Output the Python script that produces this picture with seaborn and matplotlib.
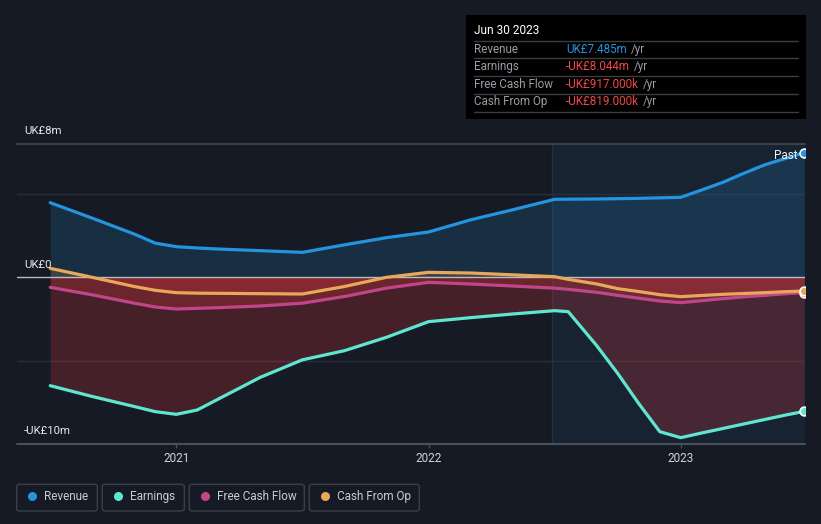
import numpy as np
import pandas as pd
import matplotlib
matplotlib.use("Agg")
import matplotlib.pyplot as plt
import matplotlib.transforms as mtransforms
from matplotlib.patches import Rectangle, FancyBboxPatch
import seaborn as sns

# ---------------- data ----------------
years = [2020.5, 2020.667, 2020.833, 2020.917, 2021.0, 2021.083, 2021.167, 2021.333,
         2021.5, 2021.667, 2021.833, 2022.0, 2022.167, 2022.333, 2022.5, 2022.554,
         2022.667, 2022.75, 2022.833, 2022.917, 2023.0, 2023.083, 2023.167, 2023.25,
         2023.333, 2023.417, 2023.49]
revenue = [4.48, 3.55, 2.6, 2.05, 1.84, 1.76, 1.70, 1.60, 1.50, 1.95, 2.38, 2.72, 3.45,
           4.05, 4.68, 4.69, 4.70, 4.72, 4.74, 4.77, 4.80, 5.24, 5.70, 6.24, 6.75, 7.14,
           7.485]
earnings = [-6.50, -7.15, -7.75, -8.06, -8.22, -7.96, -7.3, -6.0, -4.95, -4.4, -3.6,
            -2.66, -2.42, -2.2, -2.0, -2.06, -4.1, -5.76, -7.56, -9.26, -9.62, -9.34,
            -9.07, -8.80, -8.53, -8.26, -8.044]
free_cash_flow = [-0.60, -1.05, -1.55, -1.78, -1.90, -1.86, -1.82, -1.72, -1.55, -1.15,
                  -0.65, -0.30, -0.40, -0.52, -0.65, -0.72, -0.90, -1.08, -1.25, -1.42,
                  -1.52, -1.40, -1.28, -1.17, -1.08, -0.98, -0.917]
cash_from_op = [0.54, 0.0, -0.55, -0.78, -0.92, -0.95, -0.96, -0.98, -1.0, -0.55, 0.0,
                0.30, 0.26, 0.15, 0.04, -0.12, -0.40, -0.68, -0.85, -1.04, -1.16, -1.09,
                -1.02, -0.97, -0.92, -0.86, -0.819]

series_names = ["Revenue", "Earnings", "Free Cash Flow", "Cash From Op"]
series_colors = ["#2394df", "#5ee6d0", "#c2458a", "#e8a85a"]
x_ticks = [2021, 2022, 2023]
x_tick_labels = ["2021", "2022", "2023"]
y_label_values = [8, 0, -10]
y_labels = ["UK£8m", "UK£0", "-UK£10m"]
past_start = 2022.49
tooltip_title = "Jun 30 2023"
tooltip_values = ["UK£7.485m", "-UK£8.044m", "-UK£917.000k", "-UK£819.000k"]
tooltip_value_colors = ["#2394df", "#f04848", "#f04848", "#f04848"]

# ---------------- style ----------------
BG = "#151a24"
sns.set_theme(style="dark")
plt.rcParams["font.family"] = ["Roboto", "DejaVu Sans"]

W, H = 821, 524
fig = plt.figure(figsize=(W / 100, H / 100), dpi=100, facecolor=BG)


def fx(px):
    return px / W


def fy(py):
    return 1 - py / H


x_left = 2021 + (17 - 176.3) / 252.2
x_right = 2021 + (805 - 176.3) / 252.2

ax = fig.add_axes([fx(17), fy(444), fx(805) - fx(17), fy(144) - fy(444)])
ax.set_facecolor(BG)
ax.set_xlim(x_left, x_right)
ax.set_ylim(-10, 8)
for s in ax.spines.values():
    s.set_visible(False)
ax.grid(False)

# past-year highlight
ax.axvspan(past_start, x_right, color="#1c2c3c", alpha=0.55, lw=0, zorder=0)
ax.axvline(past_start, color="#1f3040", lw=1, zorder=0.5)

# grid lines
for v in (5, -5):
    ax.axhline(v, color="#2a3039", lw=1, zorder=0.6)
ax.axhline(8, color="#3b414b", lw=1.5, zorder=0.6, clip_on=False)
ax.axhline(-10, color="#4a5059", lw=1.5, zorder=0.6, clip_on=False)

x = np.array(years)
rev = np.array(revenue)
ax.fill_between(x, 0, rev, color="#2394df", alpha=0.17, lw=0, zorder=1)
ax.fill_between(x, 0, np.maximum(np.array(cash_from_op), 0), color="#e8a85a",
                alpha=0.18, lw=0, zorder=1)
for s in (earnings, free_cash_flow, cash_from_op):
    ax.fill_between(x, np.minimum(np.array(s), 0), 0, color="#e0353d", alpha=0.24,
                    lw=0, zorder=1)

ax.axhline(0, color="#b9bcc1", lw=1, zorder=2)

# lines
df = pd.concat([
    pd.DataFrame({"year": years, "value": vals, "series": name})
    for name, vals in zip(series_names, [revenue, earnings, free_cash_flow, cash_from_op])
])
palette = dict(zip(series_names, series_colors))
sns.lineplot(data=df, x="year", y="value", hue="series", hue_order=series_names,
             palette=palette, legend=False, linewidth=2.3, estimator=None, sort=False,
             ax=ax, zorder=3)
for ln in ax.get_lines():
    ln.set_solid_joinstyle("round")

# end markers
for name, vals in zip(series_names, [revenue, earnings, free_cash_flow, cash_from_op]):
    ax.scatter([years[-1]], [vals[-1]], s=40, color=palette[name], edgecolor="white",
               linewidth=1.2, zorder=4)

# axes labels
ax.set_xlabel("")
ax.set_ylabel("")
ax.set_yticks([])
ax.set_xticks(x_ticks)
ax.set_xticklabels(x_tick_labels)
ax.tick_params(axis="x", colors="#4a5059", length=3, width=1, pad=3,
               labelcolor="#d0d3d8", labelsize=8.5, bottom=True)

trans = mtransforms.blended_transform_factory(ax.transAxes, ax.transData)
for v, lab in zip(y_label_values, y_labels):
    ax.annotate(lab, xy=(7 / 788, v), xycoords=trans, xytext=(0, 12.5),
                textcoords="offset pixels", ha="left", va="center",
                color="#e8e8e8", fontsize=8.2, annotation_clip=False)

ax.annotate("Past", xy=(years[-1], revenue[-1]), xytext=(-7, -3),
            textcoords="offset pixels", ha="right", va="center", color="#f0f0f0",
            fontsize=8.5, zorder=5)

# ---------------- tooltip ----------------
fig.patches.append(Rectangle((fx(466), fy(119)), fx(806) - fx(466), fy(15) - fy(119),
                             transform=fig.transFigure, facecolor="black",
                             edgecolor="none", zorder=0))
fig.text(fx(474), fy(31), tooltip_title, color="white", fontsize=8.6, va="center",
         ha="left")
for ly in (41, 58.3, 76.3, 93.7, 111.7):
    fig.add_artist(plt.Line2D([fx(474), fx(798)], [fy(ly), fy(ly)],
                              transform=fig.transFigure, color="#3a3d42", lw=1))
renderer = fig.canvas.get_renderer()
row_y = [49.3, 66.7, 84.3, 101.7]
for name, val, col, ry in zip(series_names, tooltip_values, tooltip_value_colors, row_y):
    fig.text(fx(474), fy(ry), name, color="#9a9ea5", fontsize=8.4, va="center", ha="left")
    t = fig.text(fx(566), fy(ry), val, color=col, fontsize=8.4, va="center", ha="left")
    bb = t.get_window_extent(renderer=renderer)
    fig.text(fx(bb.x1 + 4), fy(ry), "/yr", color="#9a9ea5", fontsize=8.4,
             va="center", ha="left")

# ---------------- legend ----------------
boxes = [(16.7, 97.3), (102.3, 184.3), (189.3, 304.3), (309.3, 419.3)]
for (x0, x1), name, col in zip(boxes, series_names, series_colors):
    fig.patches.append(FancyBboxPatch((fx(x0), fy(511)), fx(x1) - fx(x0),
                                      fy(484.3) - fy(511),
                                      boxstyle="round,pad=0,rounding_size=0.004",
                                      transform=fig.transFigure, facecolor=BG,
                                      edgecolor="#3a3f48", lw=1))
    fig.add_artist(plt.Line2D([fx(x0 + 15.3)], [fy(496)], marker="o", markersize=6.5,
                              color=col, markeredgewidth=0, transform=fig.transFigure))
    fig.text(fx(x0 + 27.6), fy(496.5), name, color="#c8ccd2", fontsize=8.5,
             va="center", ha="left")

fig.savefig("out.png", dpi=100, facecolor=BG)
